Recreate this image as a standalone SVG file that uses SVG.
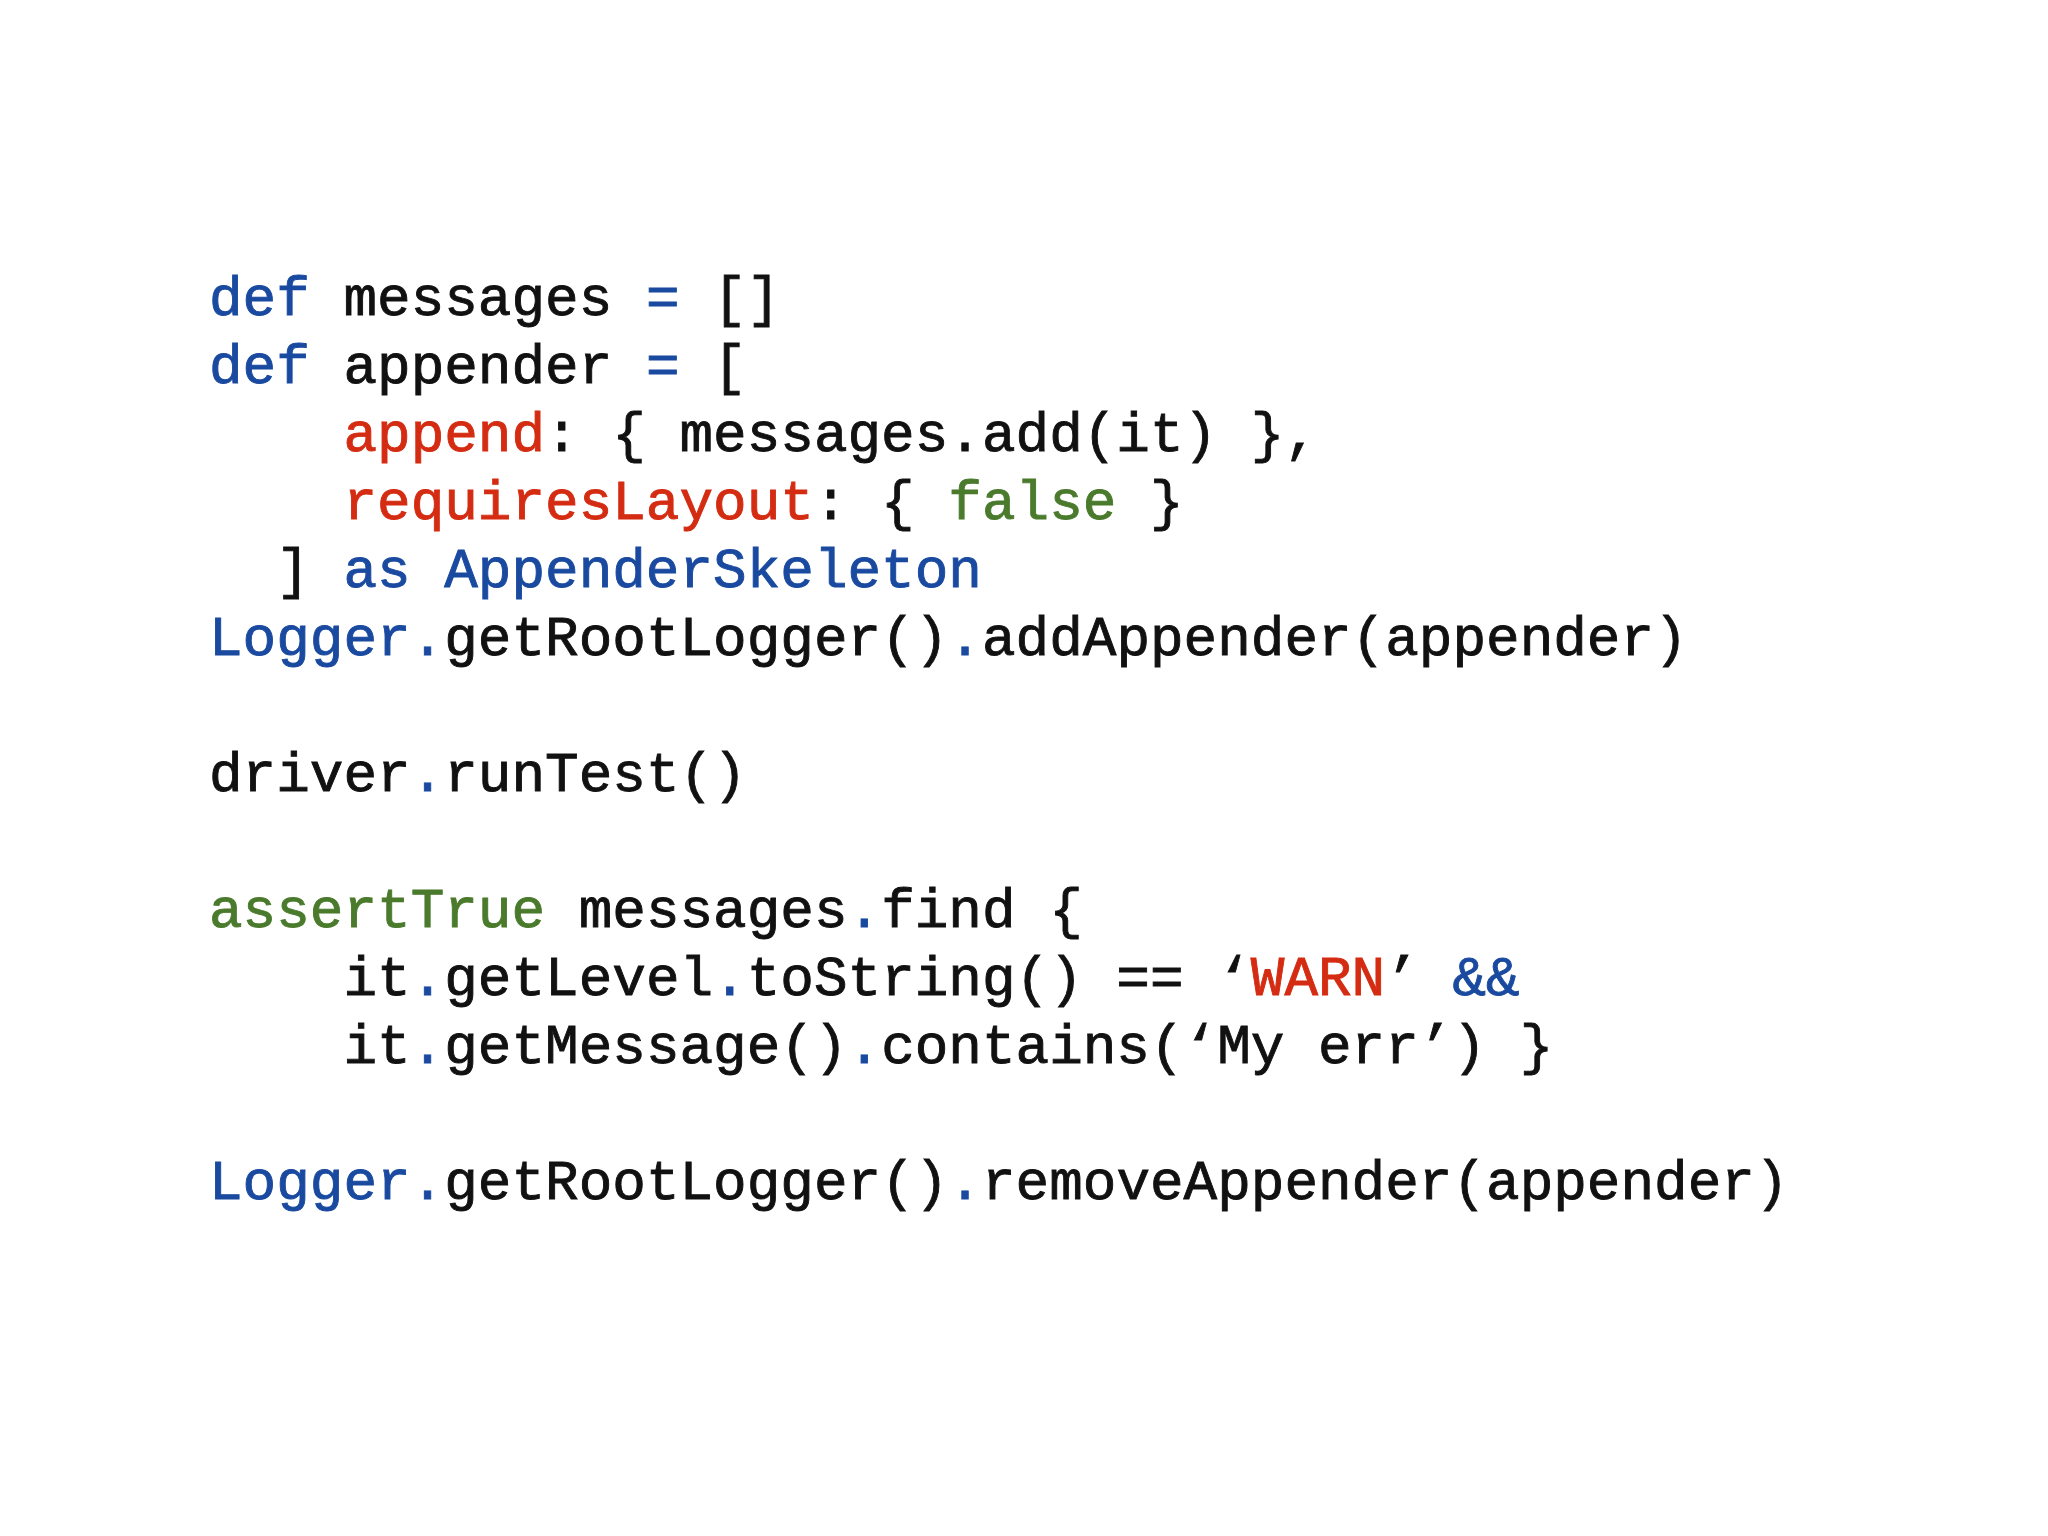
<svg xmlns="http://www.w3.org/2000/svg" width="2048" height="1536" viewBox="0 0 2048 1536">
<style>
text{font-family:"Liberation Mono","Courier New",monospace;font-size:56px;fill:#111;stroke:#111;stroke-width:0.9;white-space:pre}
.b{fill:#1a4aa0;stroke:#1a4aa0}
.r{fill:#d42c12;stroke:#d42c12}
.g{fill:#4a7a2c;stroke:#4a7a2c}
</style>
<rect width="2048" height="1536" fill="#fff"/>
<g id="code" xml:space="preserve">
<text x="209" y="315"><tspan class="b">def</tspan> messages <tspan class="b">=</tspan> []</text>
<text x="209" y="383"><tspan class="b">def</tspan> appender <tspan class="b">=</tspan> [</text>
<text x="209" y="451">    <tspan class="r">append</tspan>: { messages.add(it) },</text>
<text x="209" y="519">    <tspan class="r">requiresLayout</tspan>: { <tspan class="g">false</tspan> }</text>
<text x="209" y="587">  ] <tspan class="b">as AppenderSkeleton</tspan></text>
<text x="209" y="655"><tspan class="b">Logger.</tspan>getRootLogger()<tspan class="b">.</tspan>addAppender(appender)</text>
<text x="209" y="791">driver<tspan class="b">.</tspan>runTest()</text>
<text x="209" y="927"><tspan class="g">assertTrue</tspan> messages<tspan class="b">.</tspan>find {</text>
<text x="209" y="995">    it<tspan class="b">.</tspan>getLevel<tspan class="b">.</tspan>toString() == ‘<tspan class="r">WARN</tspan>’ <tspan class="b">&amp;&amp;</tspan></text>
<text x="209" y="1063">    it<tspan class="b">.</tspan>getMessage()<tspan class="b">.</tspan>contains(‘My err’) }</text>
<text x="209" y="1199"><tspan class="b">Logger.</tspan>getRootLogger()<tspan class="b">.</tspan>removeAppender(appender)</text>
</g>
</svg>
